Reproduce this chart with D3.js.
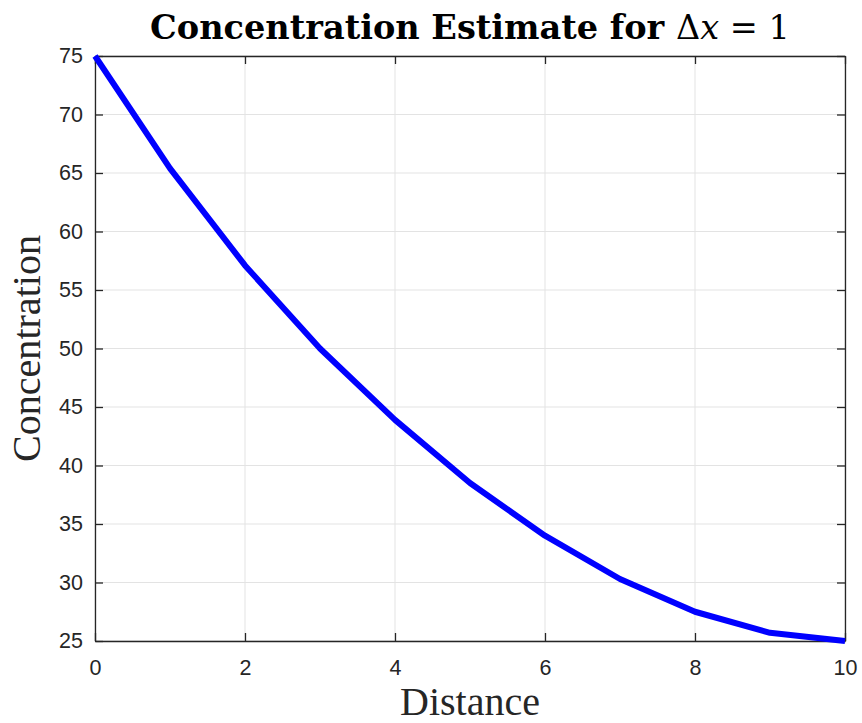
<!DOCTYPE html>
<html><head><meta charset="utf-8">
<script src="https://cdn.jsdelivr.net/npm/d3@7"></script>
<style>body{margin:0;background:#fff}svg{display:block}</style>
</head><body>
<svg id="c" width="862" height="723"></svg>
<script>
const distance = [0,1,2,3,4,5,6,7,8,9,10];
const concentration = [75,65.4,57.1,50.0,43.9,38.5,34.0,30.3,27.5,25.7,25.0];
const xTicks = [0,2,4,6,8,10];
const yTicks = [25,30,35,40,45,50,55,60,65,70,75];

const svg = d3.select("#c");
const L=95,R=845,T=56,B=641;
const x = d3.scaleLinear().domain([0,10]).range([L,R]);
const y = d3.scaleLinear().domain([25,75]).range([B,T]);
const axCol="#262626", gridCol="#e3e3e3";

// grid
svg.append("g").selectAll("line").data(xTicks).join("line")
  .attr("x1",d=>x(d)).attr("x2",d=>x(d)).attr("y1",T).attr("y2",B)
  .attr("stroke",gridCol).attr("stroke-width",1);
svg.append("g").selectAll("line").data(yTicks).join("line")
  .attr("y1",d=>y(d)).attr("y2",d=>y(d)).attr("x1",L).attr("x2",R)
  .attr("stroke",gridCol).attr("stroke-width",1);

// axes
const tl=8;
const gx = svg.append("g").attr("transform",`translate(0,${B})`)
  .call(d3.axisBottom(x).tickValues(xTicks).tickSizeInner(-tl).tickSizeOuter(0).tickPadding(19));
const gxt = svg.append("g").attr("transform",`translate(0,${T})`)
  .call(d3.axisTop(x).tickValues(xTicks).tickSizeInner(-tl).tickSizeOuter(0).tickFormat(""));
const gy = svg.append("g").attr("transform",`translate(${L},0)`)
  .call(d3.axisLeft(y).tickValues(yTicks).tickSizeInner(-tl).tickSizeOuter(0).tickPadding(12));
const gyr = svg.append("g").attr("transform",`translate(${R},0)`)
  .call(d3.axisRight(y).tickValues(yTicks).tickSizeInner(-tl).tickSizeOuter(0).tickFormat(""));
[gx,gxt,gy,gyr].forEach(g=>{
  g.attr("font-size",21.5).attr("font-family","Liberation Sans, Arial, sans-serif");
  g.selectAll(".domain").attr("stroke",axCol).attr("stroke-width",1.3);
  g.selectAll(".tick line").attr("stroke",axCol).attr("stroke-width",1.3);
  g.selectAll("text").attr("fill",axCol);
});

// line
svg.append("path").datum(distance.map((d,i)=>[d,concentration[i]]))
  .attr("fill","none").attr("stroke","#0000ff").attr("stroke-width",6)
  .attr("stroke-linejoin","round")
  .attr("d",d3.line().x(d=>x(d[0])).y(d=>y(d[1])));

// title
const title = svg.append("text").attr("x",(L+R)/2).attr("y",39).attr("text-anchor","middle")
  .attr("font-family","DejaVu Serif, Liberation Serif, serif").attr("font-size",30).attr("fill","#000");
title.append("tspan").attr("font-weight","bold").text("Concentration Estimate for ");
title.append("tspan").text("Δ");
title.append("tspan").attr("font-style","italic").text("x");
title.append("tspan").text(" = 1");
function fit(t,w){const cw=t.node().getComputedTextLength(); const fs=+t.attr("font-size"); t.attr("font-size",fs*w/cw);}
fit(title,640);

// axis labels
const xl = svg.append("text").attr("x",(L+R)/2).attr("y",715).attr("text-anchor","middle")
  .attr("font-family","Liberation Serif, serif").attr("font-size",34).attr("fill","#262626").text("Distance");
fit(xl,140);
const yl = svg.append("text").attr("transform",`translate(40,${(T+B)/2}) rotate(-90)`).attr("text-anchor","middle")
  .attr("font-family","Liberation Serif, serif").attr("font-size",34).attr("fill","#262626").text("Concentration");
fit(yl,227);
</script>
</body></html>
